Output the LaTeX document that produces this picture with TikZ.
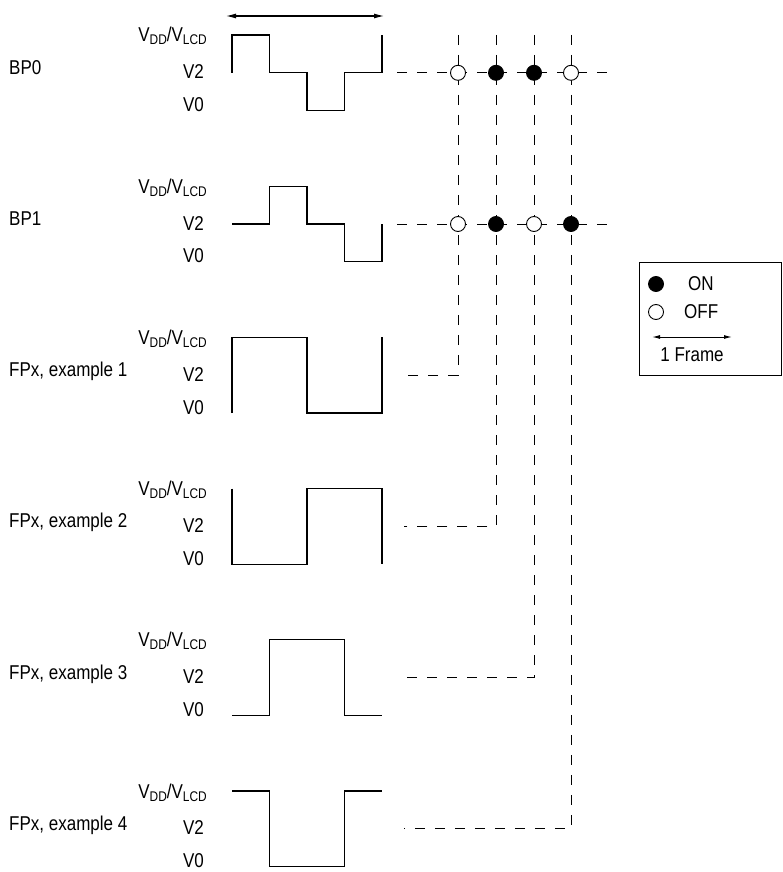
\documentclass[tikz,border=0pt]{standalone}
\usepackage{fontspec}
\setmainfont{Liberation Sans}[FakeStretch=0.85]
\usetikzlibrary{arrows.meta}

\newcommand{\lcdsub}[1]{\raisebox{-3pt}{\fontsize{14}{14}\selectfont #1}}

\tikzset{
    wave/.style={line width=1.3pt, line join=miter},
    guide/.style={line width=0.9pt, dash pattern=on 10pt off 10pt},
    dot on/.style={circle, draw, fill=black, inner sep=0pt, minimum size=15pt, line width=0.9pt},
    dot off/.style={circle, draw, fill=white, inner sep=0pt, minimum size=15pt, line width=0.9pt},
    level text/.style={anchor=base east, inner sep=0pt},
    name text/.style={anchor=base west, inner sep=0pt},
    frame arrow/.style={line width=1.1pt, {Latex[length=10pt,width=5pt]}-{Latex[length=10pt,width=5pt]}}
}

\begin{document}
\begin{tikzpicture}[x=1pt, y=-1pt, font=\fontsize{20}{24}\selectfont]
    \useasboundingbox (0,0) rectangle (782,872);

    % Define grid dimensions
    \def\ytop{35}      % top level of first row
    \def\rowgap{151.2} % distance between rows
    \def\lvl{37.8}     % distance between levels
    \def\T{0}          % VDD/VLCD level
    \def\M{37.8}       % V2 level
    \def\B{75.6}       % V0 level
    \def\qa{232}       % quarter frame edges
    \def\qb{269.5}
    \def\qc{307}
    \def\qd{344.5}
    \def\qe{382}

    % --- One frame arrow ---
    \coordinate (fs) at (226,16);
    \coordinate (fe) at (384,16);
    \draw[frame arrow] (fs) -- (fe);

    % --- Row names and level labels ---
    \foreach \name [count=\r from 0] in {BP0, BP1, {FPx, example 1}, {FPx, example 2}, {FPx, example 3}, {FPx, example 4}} {
        \begin{scope}[yshift={-(\ytop+\r*\rowgap)*1pt}]
            \node[name text] (name\r) at (9,{\M+1.5}) {\name};
            \node[level text] (vdd\r) at (207,{\T+7}) {V\lcdsub{DD}/V\lcdsub{LCD}};
            \node[level text] (vtwo\r) at (204,{\M+6}) {V2};
            \node[level text] (vzero\r) at (204,{\B+1}) {V0};
        \end{scope}
    }

    % --- Waveforms ---
    \begin{scope}[yshift=-35pt] % BP0
        \draw[wave] (\qa,\M) -- (\qa,\T) -- (\qb,\T) -- (\qb,\M) -- (\qc,\M) -- (\qc,\B) -- (\qd,\B) -- (\qd,\M) -- (\qe,\M) -- (\qe,\T);
    \end{scope}
    \begin{scope}[yshift={-(\ytop+\rowgap)*1pt}] % BP1
        \draw[wave] (\qa,\M) -- (\qb,\M) -- (\qb,\T) -- (\qc,\T) -- (\qc,\M) -- (\qd,\M) -- (\qd,\B) -- (\qe,\B) -- (\qe,\M);
    \end{scope}
    \begin{scope}[yshift={-(\ytop+2*\rowgap)*1pt}] % FPx, example 1
        \draw[wave] (\qa,\B) -- (\qa,\T) -- (\qc,\T) -- (\qc,\B) -- (\qe,\B) -- (\qe,\T);
    \end{scope}
    \begin{scope}[yshift={-(\ytop+3*\rowgap)*1pt}] % FPx, example 2
        \draw[wave] (\qa,\T) -- (\qa,\B) -- (\qc,\B) -- (\qc,\T) -- (\qe,\T) -- (\qe,\B);
    \end{scope}
    \begin{scope}[yshift={-(\ytop+4*\rowgap)*1pt}] % FPx, example 3
        \draw[wave] (\qa,\B) -- (\qb,\B) -- (\qb,\T) -- (\qd,\T) -- (\qd,\B) -- (\qe,\B);
    \end{scope}
    \begin{scope}[yshift={-(\ytop+5*\rowgap)*1pt}] % FPx, example 4
        \draw[wave] (\qa,\T) -- (\qb,\T) -- (\qb,\B) -- (\qd,\B) -- (\qd,\T) -- (\qe,\T);
    \end{scope}

    % --- Dashed guides from the columns to the FPx rows ---
    \foreach \x/\r [count=\c] in {458/2, 496/3, 534/4, 571/5} {
        \coordinate (top\c) at (\x,\ytop);
        \coordinate (tail\c) at (404,{\ytop+\r*\rowgap+\lvl});
        \draw[guide] (top\c) |- (tail\c);
    }

    % --- Dashed lines of the backplanes ---
    \coordinate (bp0s) at (397,{\ytop+\lvl});
    \coordinate (bp0e) at (610,{\ytop+\lvl});
    \coordinate (bp1s) at (397,{\ytop+\rowgap+\lvl});
    \coordinate (bp1e) at (610,{\ytop+\rowgap+\lvl});
    \draw[guide] (bp0s) -- (bp0e);
    \draw[guide] (bp1s) -- (bp1e);

    % --- Segment states ---
    \foreach \s [count=\c] in {off,on,on,off} {
        \node[dot \s] (bp0dot\c) at (top\c |- bp0s) {};
    }
    \foreach \s [count=\c] in {off,on,off,on} {
        \node[dot \s] (bp1dot\c) at (top\c |- bp1s) {};
    }

    % --- Legend ---
    \node[draw, line width=1pt, minimum width=142pt, minimum height=113pt, anchor=north west, inner sep=0pt] (key) at (639,262) {};
    \node[dot on] (keyon) at (656,284) {};
    \node[anchor=west, inner sep=0pt] (keyontext) at (688,284) {ON};
    \node[dot off] (keyoff) at (656,312) {};
    \node[anchor=west, inner sep=0pt] (keyofftext) at (684,312) {OFF};
    \coordinate (ks) at (652,337);
    \coordinate (ke) at (732,337);
    \draw[line width=1pt, {Latex[length=8pt,width=4pt]}-{Latex[length=8pt,width=4pt]}] (ks) -- (ke);
    \node[inner sep=0pt] (keyframe) at (692,355) {1 Frame};

\end{tikzpicture}
\end{document}
